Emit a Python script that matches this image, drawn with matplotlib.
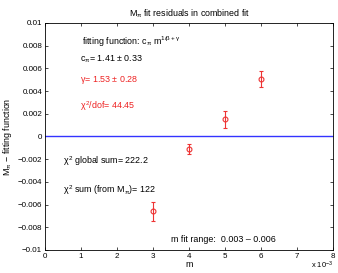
import matplotlib
matplotlib.use("Agg")
import matplotlib.pyplot as plt

plt.rcParams['font.family'] = ['Liberation Sans', 'DejaVu Sans']
plt.rcParams['mathtext.fontset'] = 'custom'
plt.rcParams['mathtext.rm'] = 'Liberation Sans'
plt.rcParams['mathtext.it'] = 'Liberation Sans'

# data (x in units of 1e-3)
m_vals = [3, 4, 5, 6]
residuals = [-0.0066, -0.00113, 0.00151, 0.00507]
errors = [0.00082, 0.00044, 0.00072, 0.00073]
xticks = [0, 1, 2, 3, 4, 5, 6, 7, 8]
yticks = [-0.01, -0.008, -0.006, -0.004, -0.002, 0, 0.002, 0.004, 0.006, 0.008, 0.01]
ytick_labels = ['\u22120.01', '\u22120.008', '\u22120.006', '\u22120.004', '\u22120.002', '0',
                '0.002', '0.004', '0.006', '0.008', '0.01']

fs = 6.4
fig = plt.figure(figsize=(3.38, 2.73), dpi=100)
ax = fig.add_axes([45/338, 1-250/273, 288/338, 227/273])

ax.axhline(0, color='#3333ff', lw=1.0)
ax.errorbar(m_vals, residuals, yerr=errors, fmt='o', mfc='none', mec='#ee3333',
            ecolor='#ee3333', ms=3.5, mew=0.8, elinewidth=0.8, capsize=1.5, capthick=0.8)

ax.set_xlim(0, 8)
ax.set_ylim(-0.01, 0.01)
ax.set_xticks(xticks)
ax.set_xticklabels([str(t) for t in xticks])
ax.set_yticks(yticks)
ax.set_yticklabels(ytick_labels)
ax.tick_params(direction='in', top=True, right=True, labelsize=fs - 0.6, length=2.5, width=0.5, pad=2)
for s in ax.spines.values():
    s.set_linewidth(0.6)

ax.set_title(r'M$_{\pi}$ fit residuals in combined fit', fontsize=fs, pad=5)
ax.set_xlabel('m', fontsize=fs, labelpad=0)
ax.set_ylabel(r'M$_{\pi}$ $-$ fitting function', fontsize=fs, labelpad=3)
ax.text(8, -0.01085, r'x 10$^{-3}$', fontsize=fs - 1, ha='right', va='top')

ax.text(1.02, 0.00835, r'fitting function: c$_{\pi}$ m$^{1/\beta+\gamma}$', fontsize=fs, va='center')
ax.text(0.97, 0.0068, r'c$_{\pi}$= 1.41 $\pm$ 0.33', fontsize=fs, va='center')
ax.text(0.97, 0.00498, r'$\gamma$= 1.53 $\pm$ 0.28', fontsize=fs, va='center', color='#ee2222')
ax.text(0.97, 0.00263, r'$\chi^2$/dof= 44.45', fontsize=fs, va='center', color='#ee2222')
ax.text(0.5, -0.00213, r'$\chi^2$ global sum= 222.2', fontsize=fs, va='center')
ax.text(0.5, -0.0047, r'$\chi^2$ sum (from M$_{\pi}$)= 122', fontsize=fs, va='center')
ax.text(3.5, -0.0091, 'm fit range:  0.003 \u2013 0.006', fontsize=fs, va='center')

fig.savefig('out.png', dpi=100)
